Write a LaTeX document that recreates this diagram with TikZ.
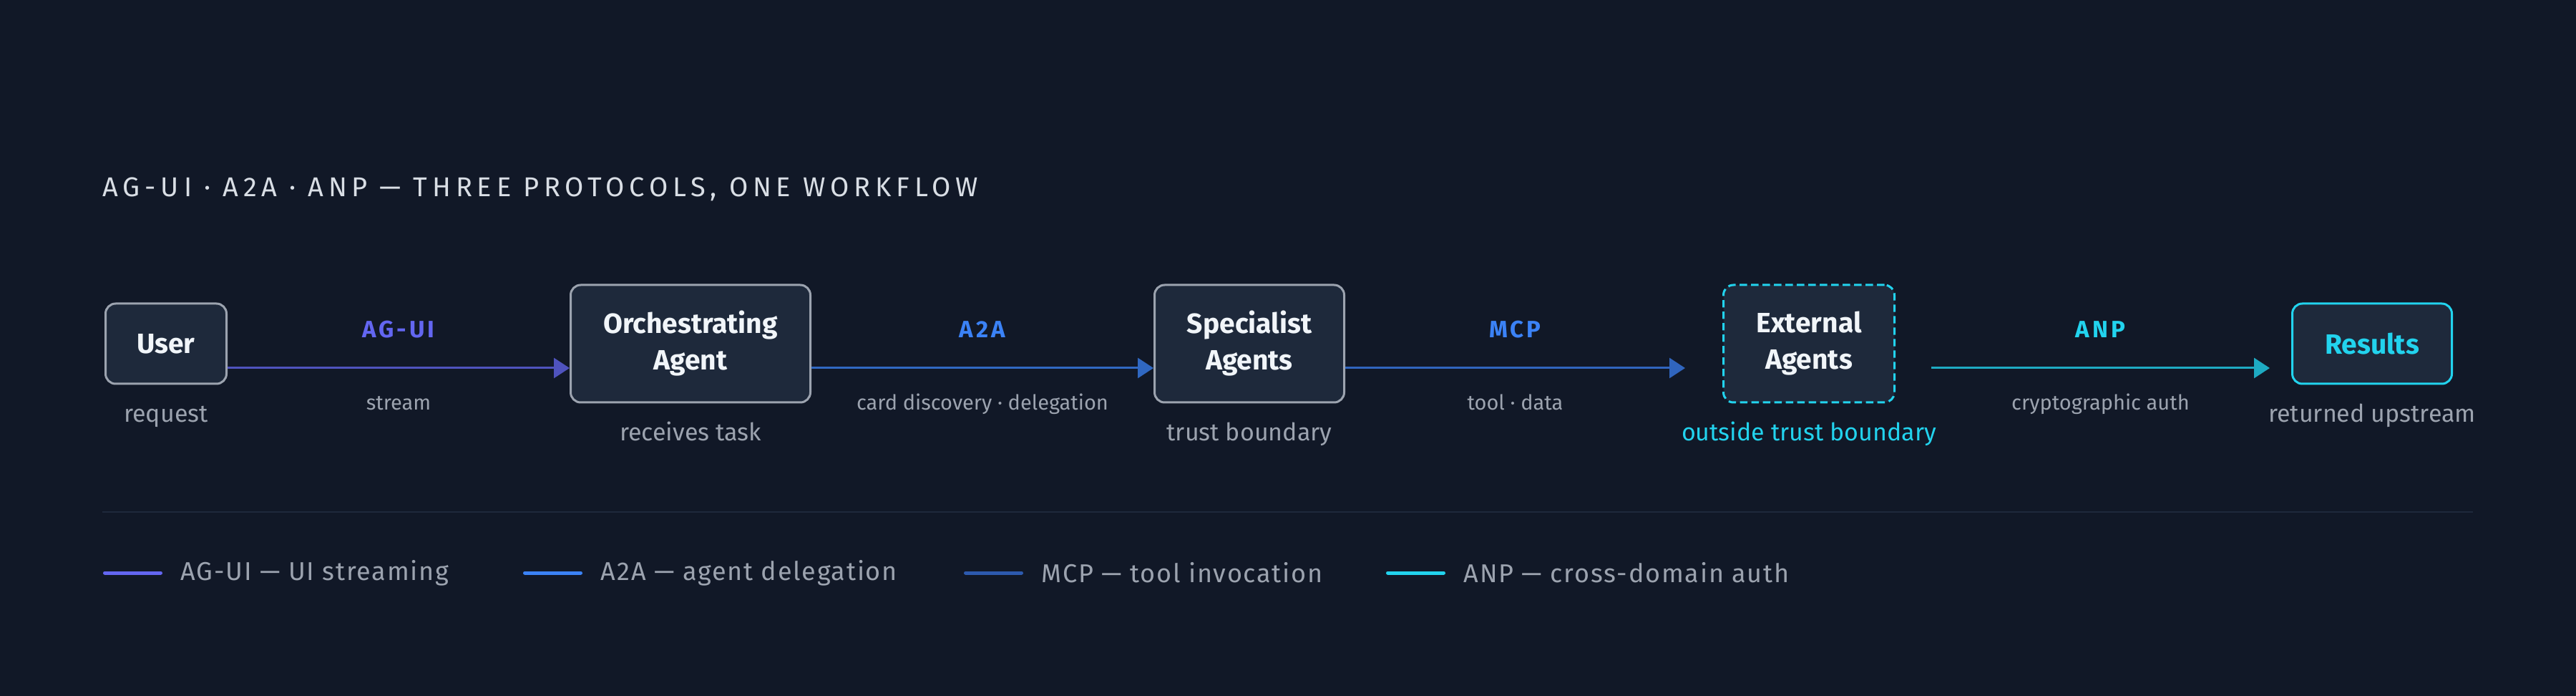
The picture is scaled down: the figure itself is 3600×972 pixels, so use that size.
\documentclass[tikz,border=0pt]{standalone}
\usepackage{fontspec}
\setmainfont{Fira Sans}
\newfontfamily\titlefont[LetterSpace=18]{Fira Sans}
\newfontfamily\protofont[LetterSpace=12]{Fira Sans}
\newfontfamily\legendfont[LetterSpace=5]{Fira Sans}
\usetikzlibrary{arrows.meta,positioning}
\definecolor{bg}{HTML}{111827}
\definecolor{boxfill}{HTML}{1E293B}
\definecolor{boxline}{HTML}{9CA3AF}
\definecolor{txtmain}{HTML}{F1F5F9}
\definecolor{txtsub}{HTML}{9CA3AF}
\definecolor{titlecol}{HTML}{D9DEE5}
\definecolor{agui}{HTML}{6366F1}
\definecolor{atwoa}{HTML}{3B82F6}
\definecolor{mcp}{HTML}{2D5AAE}
\definecolor{anp}{HTML}{22D3EE}

\begin{document}
\begin{tikzpicture}[
  x=0.25pt, y=-0.25pt,
  agent/.style={draw=boxline, fill=boxfill, line width=0.75pt, rounded corners=3.5pt, align=center, inner sep=0pt,
    text=txtmain, font=\bfseries\fontsize{9.75}{12.75}\selectfont},
  external/.style={agent, draw=anp, dash pattern=on 2.6pt off 1.4pt},
  result/.style={agent, draw=anp, text=anp},
  nodesub/.style={inner sep=0pt, outer sep=0pt, text height=6pt, text depth=2pt, text=txtsub, font=\fontsize{8.5}{10}\selectfont},
  proto/.style={inner sep=0pt, midway, anchor=base, yshift=10.5pt, font=\protofont\bfseries\fontsize{8.25}{9}\selectfont},
  edgesub/.style={inner sep=0pt, midway, anchor=base, yshift=-14.75pt, text=txtsub, font=\fontsize{7.25}{9}\selectfont},
  flow/.style={-{Triangle[length=5.5pt, width=7pt]}, line width=0.75pt},
  swatch/.style={line width=1.25pt, line cap=round},
  legend/.style={inner sep=0pt, text=txtsub, font=\legendfont\fontsize{9}{11}\selectfont}
]
\useasboundingbox (0,0) rectangle (3600,972);
\fill[bg] (0,0) rectangle (3600,972);

% heading
\node[anchor=base west, inner sep=0pt, text=titlecol, font=\titlefont\fontsize{9.5}{11}\selectfont] (title) at (143,275)
  {AG-UI · A2A · ANP — THREE PROTOCOLS, ONE WORKFLOW};

% workflow boxes
\node[agent, minimum width=42.25pt, minimum height=28pt] (user) at (232,480) {User};
\node[agent, minimum width=83.75pt, minimum height=41pt, right=119.5pt of user] (orch) {Orchestrating\\Agent};
\node[agent, minimum width=66.25pt, minimum height=41pt, right=119.5pt of orch] (spec) {Specialist\\Agents};
\node[external, minimum width=59.75pt, minimum height=41pt, right=131.75pt of spec] (ext) {External\\Agents};
\node[result, minimum width=55.75pt, minimum height=28pt, right=138.25pt of ext] (results) {Results};

\node[nodesub, below=7pt of user] (usersub) {request};
\node[nodesub, below=7pt of orch] (orchsub) {receives task};
\node[nodesub, below=7pt of spec] (specsub) {trust boundary};
\node[nodesub, below=7pt of ext, text=anp] (extsub) {outside trust boundary};
\node[nodesub, below=7pt of results] (resultssub) {returned upstream};

% protocol hops
\draw[flow, agui!75!bg] ([yshift=-8.5pt]user.east) -- ([yshift=-8.5pt]orch.west)
  node[proto, text=agui] {AG-UI} node[edgesub] {stream};
\draw[flow, atwoa!75!bg] ([yshift=-8.5pt]orch.east) -- ([yshift=-8.5pt]spec.west)
  node[proto, text=atwoa] {A2A} node[edgesub] {card discovery · delegation};
\draw[flow, atwoa!73!bg] ([yshift=-8.5pt]spec.east) -- ([xshift=-13pt, yshift=-8.5pt]ext.west)
  node[proto, text=atwoa] {MCP} node[edgesub] {tool · data};
\draw[flow, anp!78!bg] ([xshift=12.5pt, yshift=-8.5pt]ext.east) -- ([xshift=-7.5pt, yshift=-8.5pt]results.west)
  node[proto, text=anp] {ANP} node[edgesub] {cryptographic auth};

% legend
\draw[boxfill, line width=0.6pt] (143,715) -- (3456,715);
\foreach \xs/\col/\txt [count=\i] in {144/agui/{AG-UI — UI streaming}, 731/atwoa/{A2A — agent delegation},
    1347/mcp/{MCP — tool invocation}, 1937/anp/{ANP — cross-domain auth}} {
  \draw[swatch, \col] (\xs+2.5,800) -- ++(78,0) coordinate (sw\i);
  \node[legend, right=6.9pt of sw\i] (leg\i) {\txt};
}
\end{tikzpicture}
\end{document}
